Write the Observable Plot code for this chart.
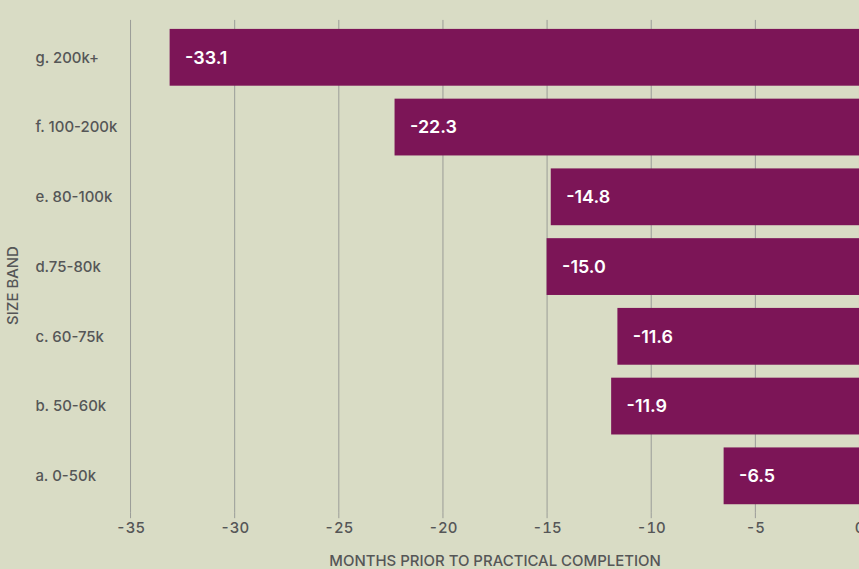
<!DOCTYPE html>
<html>
<head>
<meta charset="utf-8">
<script src="https://cdn.jsdelivr.net/npm/d3@7"></script>
<script src="https://cdn.jsdelivr.net/npm/@observablehq/plot@0.6"></script>
<style>
  html, body { margin: 0; padding: 0; background: #d9dcc5; overflow: hidden; }
  #chart svg { display: block; }
</style>
</head>
<body>
<div id="chart"></div>
<script>
const bands = ["g. 200k+", "f. 100-200k", "e. 80-100k", "d.75-80k", "c. 60-75k", "b. 50-60k", "a. 0-50k"];
const values = [-33.1, -22.3, -14.8, -15.0, -11.6, -11.9, -6.5];
const xTicks = [-35, -30, -25, -20, -15, -10, -5, 0];
const xLabel = "MONTHS PRIOR TO PRACTICAL COMPLETION";
const yLabel = "SIZE BAND";

const data = bands.map((b, i) => ({band: b, value: values[i]}));

const textColor = "#555657";
const gridColor = "#9a9c98";
const barColor = "#7c1557";
const marginLeft = 130.5;

const chart = Plot.plot({
  width: 862,
  height: 569,
  marginTop: 20,
  marginBottom: 55,
  marginLeft: marginLeft,
  marginRight: 0,
  style: {fontFamily: "Inter, 'DejaVu Sans', sans-serif", background: "#d9dcc5", overflow: "visible"},
  x: {domain: [-35, 0], axis: null},
  y: {domain: bands, paddingInner: 0.19, paddingOuter: 0.1, axis: null},
  marks: [
    Plot.gridX(xTicks, {stroke: gridColor, strokeOpacity: 1, strokeWidth: 1}),
    Plot.axisX({
      ticks: xTicks,
      tickFormat: d => String(d),
      tickSize: 6,
      tickPadding: 4,
      stroke: gridColor,
      fill: textColor,
      fontSize: 15,
      fontWeight: 500,
      letterSpacing: "-0.6px",
      label: null
    }),
    Plot.barX(data, {x1: "value", x2: 0, y: "band", fill: barColor}),
    Plot.text(data, {
      x: "value", y: "band", text: d => d.value.toFixed(1),
      dx: 15, textAnchor: "start", fill: "white",
      fontSize: 18, fontWeight: 600, letterSpacing: "-0.8px"
    }),
    Plot.text(bands, {
      y: d => d, text: d => d, frameAnchor: "left",
      dx: 35 - marginLeft, textAnchor: "start",
      fill: textColor, fontSize: 15, fontWeight: 500, letterSpacing: "-0.5px"
    }),
    Plot.text([yLabel], {
      frameAnchor: "left", rotate: -90,
      dx: 13 - marginLeft, dy: 19,
      textAnchor: "middle", lineAnchor: "middle",
      fill: textColor, fontSize: 15, fontWeight: 500, letterSpacing: "-0.3px"
    }),
    Plot.text([xLabel], {
      frameAnchor: "bottom", dy: 49,
      textAnchor: "middle", lineAnchor: "middle",
      fill: textColor, fontSize: 15, fontWeight: 500, letterSpacing: "-0.2px"
    })
  ]
});

document.getElementById("chart").appendChild(chart);
</script>
</body>
</html>
